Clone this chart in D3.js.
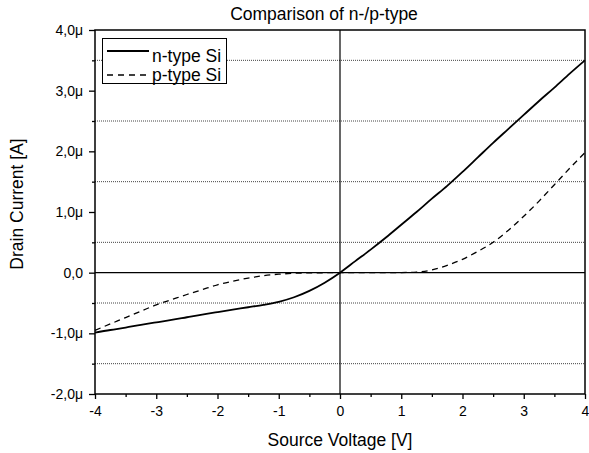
<!DOCTYPE html>
<html><head><meta charset="utf-8">
<script src="https://cdn.jsdelivr.net/npm/d3@7"></script>
<style>body{margin:0;background:#fff}text{font-family:"Liberation Sans",Arial,sans-serif;fill:#000}</style>
</head><body><svg id="c" width="589" height="453"></svg>
<script>
const voltage = [-4,-3.75,-3.5,-3.25,-3,-2.75,-2.5,-2.25,-2,-1.75,-1.5,-1.25,-1,-0.75,-0.5,-0.25,0,0.25,0.5,0.75,1,1.25,1.5,1.75,2,2.25,2.5,2.75,3,3.25,3.5,3.75,4];
const nType = [-0.99,-0.945,-0.905,-0.86,-0.82,-0.78,-0.735,-0.69,-0.65,-0.61,-0.57,-0.53,-0.48,-0.405,-0.30,-0.165,0,0.19,0.38,0.58,0.79,1.0,1.22,1.43,1.66,1.90,2.14,2.37,2.60,2.83,3.05,3.28,3.5];
const pType = [-0.95,-0.845,-0.74,-0.635,-0.53,-0.445,-0.36,-0.28,-0.20,-0.14,-0.09,-0.05,-0.025,-0.01,-0.004,-0.001,0,0,0,0,0.002,0.01,0.045,0.12,0.22,0.35,0.5,0.70,0.93,1.18,1.45,1.72,1.98];
const xTicks = [-4,-3,-2,-1,0,1,2,3,4];
const xTickLabels = ["-4","-3","-2","-1","0","1","2","3","4"];
const xMinor = [-3.5,-2.5,-1.5,-0.5,0.5,1.5,2.5,3.5];
const yTicks = [-2,-1,0,1,2,3,4];
const yTickLabels = ["-2,0μ","-1,0μ","0,0","1,0μ","2,0μ","3,0μ","4,0μ"];
const yGrid = [-1.5,-0.5,0.5,1.5,2.5,3.5];
const seriesNames = ["n-type Si","p-type Si"];
const title = "Comparison of n-/p-type";
const xTitle = "Source Voltage [V]";
const yTitle = "Drain Current [A]";

const svg = d3.select("#c");
const L=95,R=585,T=30,B=394;
const x = d3.scaleLinear().domain([-4,4]).range([L,R]);
const y = d3.scaleLinear().domain([-2,4]).range([B,T]);

// grid
svg.append("g").selectAll("line").data(yGrid).join("line")
  .attr("x1",L).attr("x2",R).attr("y1",d=>y(d)).attr("y2",d=>y(d))
  .attr("stroke","#444").attr("stroke-width",1).attr("stroke-dasharray","1,1");

// zero lines
svg.append("line").attr("x1",L).attr("x2",R).attr("y1",y(0)).attr("y2",y(0)).attr("stroke","#000").attr("stroke-width",1.2);
svg.append("line").attr("x1",x(0)).attr("x2",x(0)).attr("y1",T).attr("y2",B).attr("stroke","#000").attr("stroke-width",1.2);

// axes
svg.append("g").attr("transform",`translate(0,${B})`)
  .call(d3.axisBottom(x).tickValues(xTicks).tickSize(5).tickPadding(7).tickFormat(d=>xTickLabels[xTicks.indexOf(d)]));
svg.append("g").attr("transform",`translate(0,${B})`)
  .call(d3.axisBottom(x).tickValues(xMinor).tickSize(3).tickFormat(""));
svg.append("g").attr("transform",`translate(${L},0)`)
  .call(d3.axisLeft(y).tickValues(yTicks).tickSize(6).tickPadding(6).tickFormat(d=>yTickLabels[yTicks.indexOf(d)]));
svg.append("g").attr("transform",`translate(${L},0)`)
  .call(d3.axisLeft(y).tickValues(yGrid).tickSize(3).tickFormat(""));
svg.selectAll(".domain").remove();
svg.selectAll(".tick line").attr("stroke","#000").attr("stroke-width",1.3);
svg.selectAll(".tick text").attr("font-size",14).attr("font-family","Liberation Sans, Arial, sans-serif");

// frame
svg.append("rect").attr("x",L).attr("y",T).attr("width",R-L).attr("height",B-T)
  .attr("fill","none").attr("stroke","#000").attr("stroke-width",1.5);

// lines
const line = d3.line().x((d,i)=>x(voltage[i])).y(d=>y(d)).curve(d3.curveMonotoneX);
svg.append("path").attr("d",line(nType)).attr("fill","none").attr("stroke","#000").attr("stroke-width",1.8);
svg.append("path").attr("d",line(pType)).attr("fill","none").attr("stroke","#000").attr("stroke-width",1.3).attr("stroke-dasharray","6,4.5");

// titles
svg.append("text").attr("x",324).attr("y",20).attr("text-anchor","middle").attr("font-size",17.5).text(title);
svg.append("text").attr("x",340).attr("y",446).attr("text-anchor","middle").attr("font-size",17.5).text(xTitle);
svg.append("text").attr("transform","translate(23,204) rotate(-90)").attr("text-anchor","middle").attr("font-size",17.5).text(yTitle);

// legend
const lg = svg.append("g");
lg.append("rect").attr("x",102.5).attr("y",38.5).attr("width",124).attr("height",45).attr("fill","#fff").attr("stroke","#000").attr("stroke-width",1);
const rowsY=[51,75], baseY=[62,81];
seriesNames.forEach((s,i)=>{
  lg.append("line").attr("x1",107).attr("x2",149).attr("y1",rowsY[i]).attr("y2",rowsY[i])
    .attr("stroke","#000").attr("stroke-width",i?1.3:1.8).attr("stroke-dasharray",i?"6,5":null);
  lg.append("text").attr("x",152).attr("y",baseY[i]).attr("font-size",17.5).text(s);
});
</script></body></html>
